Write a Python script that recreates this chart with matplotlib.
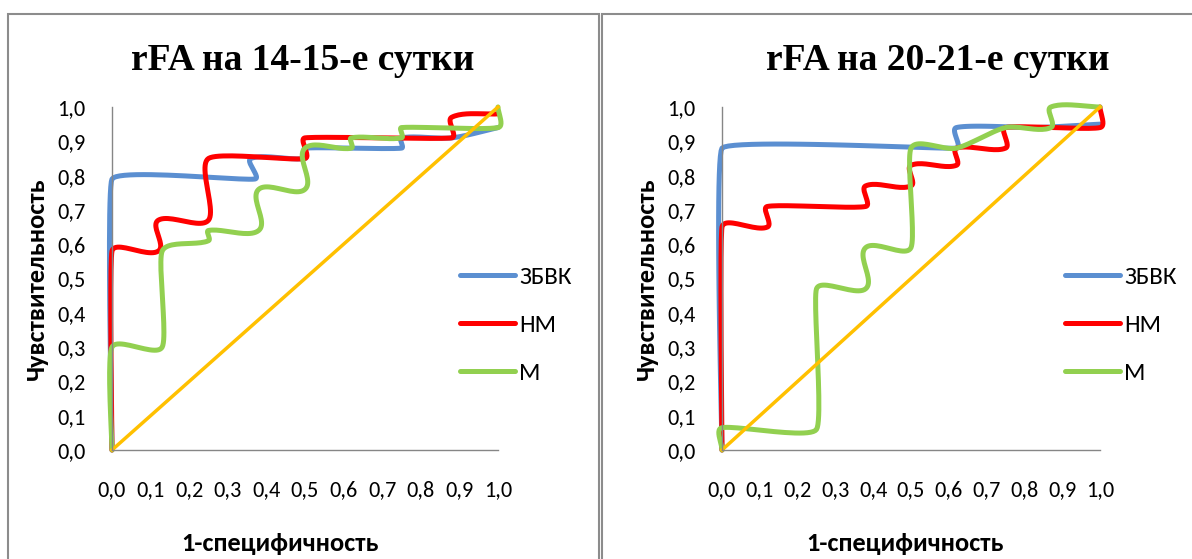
import numpy as np
import matplotlib
matplotlib.use("Agg")
import matplotlib.pyplot as plt
from matplotlib import font_manager
from matplotlib.patches import Rectangle
from matplotlib.ticker import FuncFormatter

# ROC points, panel 1 (14-15 days)
zbvk1_x = [0, 0, 0.37, 0.36, 0.5, 0.5, 0.75, 0.75, 0.88, 1.0]
zbvk1_y = [0, 0.79, 0.79, 0.85, 0.85, 0.88, 0.88, 0.91, 0.91, 0.94]
nm1_x = [0, 0, 0.12, 0.12, 0.25, 0.25, 0.5, 0.5, 0.88, 0.88, 1.0]
nm1_y = [0, 0.58, 0.58, 0.67, 0.67, 0.85, 0.85, 0.91, 0.91, 0.97, 0.98]
m1_x = [0, 0, 0.13, 0.13, 0.25, 0.25, 0.38, 0.38, 0.5, 0.5, 0.62, 0.62, 0.75, 0.75, 1.0, 1.0]
m1_y = [0, 0.30, 0.30, 0.58, 0.61, 0.64, 0.64, 0.76, 0.76, 0.88, 0.88, 0.91, 0.91, 0.94, 0.94, 1.0]

# ROC points, panel 2 (20-21 days)
zbvk2_x = [0, 0, 0.62, 0.62, 0.83, 1.0]
zbvk2_y = [0, 0.88, 0.88, 0.94, 0.94, 0.95]
nm2_x = [0, 0, 0.12, 0.12, 0.38, 0.38, 0.5, 0.5, 0.62, 0.62, 0.75, 0.75, 1.0, 1.0]
nm2_y = [0, 0.65, 0.65, 0.71, 0.71, 0.77, 0.77, 0.83, 0.83, 0.88, 0.88, 0.94, 0.94, 1.0]
m2_x = [0, 0, 0.25, 0.25, 0.38, 0.38, 0.5, 0.5, 0.62, 0.75, 0.87, 0.87, 1.0]
m2_y = [0, 0.065, 0.06, 0.47, 0.47, 0.59, 0.59, 0.88, 0.88, 0.94, 0.94, 1.0, 1.0]

ref_x = [0, 1]
ref_y = [0, 1]

titles = ["rFA на 14-15-е сутки", "rFA на 20-21-е сутки"]
labels = ["ЗБВК", "НМ", "М"]
ticks = [0, 0.1, 0.2, 0.3, 0.4, 0.5, 0.6, 0.7, 0.8, 0.9, 1.0]

colors = ["#5B8FD1", "#FF0000", "#92D050"]
ref_color = "#FFC000"

# narrow sans like Calibri if there is one
have = {f.name for f in font_manager.fontManager.ttflist}
sans = "Liberation Sans"
for cand in ["Carlito", "Liberation Sans Narrow", "Roboto Condensed", "Open Sans Condensed"]:
    if cand in have:
        sans = cand
        break
plt.rcParams['font.family'] = [sans, 'DejaVu Sans']


def smooth(x, y, n=24, f=0.3, cap=0.035):
    # excel-like smoothed line: cubic bezier with small local tangents
    p = np.column_stack([x, y]).astype(float)
    m = len(p)
    tang = []
    for i in range(m):
        a = p[max(i - 1, 0)]
        b = p[min(i + 1, m - 1)]
        d = b - a
        nd = np.hypot(*d)
        tang.append(d / nd if nd > 0 else d)
    out = [p[0]]
    t = np.linspace(0, 1, n)[1:, None]
    for i in range(m - 1):
        p1, p2 = p[i], p[i + 1]
        L = min(np.hypot(*(p2 - p1)) * f, cap)
        c1 = p1 + tang[i] * L
        c2 = p2 - tang[i + 1] * L
        seg = ((1 - t) ** 3) * p1 + 3 * ((1 - t) ** 2) * t * c1 + 3 * (1 - t) * t ** 2 * c2 + t ** 3 * p2
        out.extend(seg)
    out = np.array(out)
    return out[:, 0], out[:, 1]


fig = plt.figure(figsize=(11.92, 5.59), dpi=100)

# chart frames
fig.patches.append(Rectangle((8 / 1192, -0.1), 591 / 1192, 1 - 14 / 559 + 0.1,
                             transform=fig.transFigure, fill=False, ec="#8C8C8C", lw=1.5))
fig.patches.append(Rectangle((602 / 1192, -0.1), 600 / 1192, 1 - 14 / 559 + 0.1,
                             transform=fig.transFigure, fill=False, ec="#8C8C8C", lw=1.5))

# left, width, series, title centre, x-label centre, legend x
panels = [
    (112, 386, [(zbvk1_x, zbvk1_y), (nm1_x, nm1_y), (m1_x, m1_y)], 303, 0.435, 0.842),
    (722, 378, [(zbvk2_x, zbvk2_y), (nm2_x, nm2_y), (m2_x, m2_y)], 938, 0.484, 0.847),
]

fmt = FuncFormatter(lambda v, pos: f"{v:.1f}".replace(".", ","))

for k, (left, width, series, tcx, xlx, lgx) in enumerate(panels):
    ax = fig.add_axes([left / 1192, 1 - 450 / 559, width / 1192, 343 / 559])
    for (sx, sy), c, lab in zip(series, colors, labels):
        xs, ys = smooth(sx, sy)
        ax.plot(xs, ys, color=c, lw=3.6, label=lab, clip_on=False,
                solid_capstyle="round", solid_joinstyle="round")
    ax.plot(ref_x, ref_y, color=ref_color, lw=2.5, clip_on=False)
    ax.set_xlim(0, 1)
    ax.set_ylim(0, 1)
    ax.set_xticks(ticks)
    ax.set_yticks(ticks)
    ax.xaxis.set_major_formatter(fmt)
    ax.yaxis.set_major_formatter(fmt)
    ax.tick_params(length=0, labelsize=16, colors="#000000")
    ax.tick_params(axis="x", pad=22)
    ax.tick_params(axis="y", pad=19)
    for s in ["top", "right"]:
        ax.spines[s].set_visible(False)
    for s in ["left", "bottom"]:
        ax.spines[s].set_color("#868686")
        ax.spines[s].set_linewidth(1)
    ax.set_ylabel("Чувствительность", fontsize=19, fontweight="bold")
    ax.yaxis.set_label_coords(-64 / width, 0.5)
    ax.set_xlabel("1-специфичность", fontsize=19, fontweight="bold")
    ax.xaxis.set_label_coords(xlx, -82 / 343)
    ax.legend(loc="center left", bbox_to_anchor=(lgx, 0.364), frameon=False,
              fontsize=18, handlelength=2.2, labelspacing=1.07, handletextpad=0.18)
    fig.text(tcx / 1192, 1 - 60 / 559, titles[k], ha="center", va="center",
             fontsize=27, fontweight="bold", family=["Liberation Serif", "DejaVu Serif"])

fig.savefig("out.png", dpi=100)
